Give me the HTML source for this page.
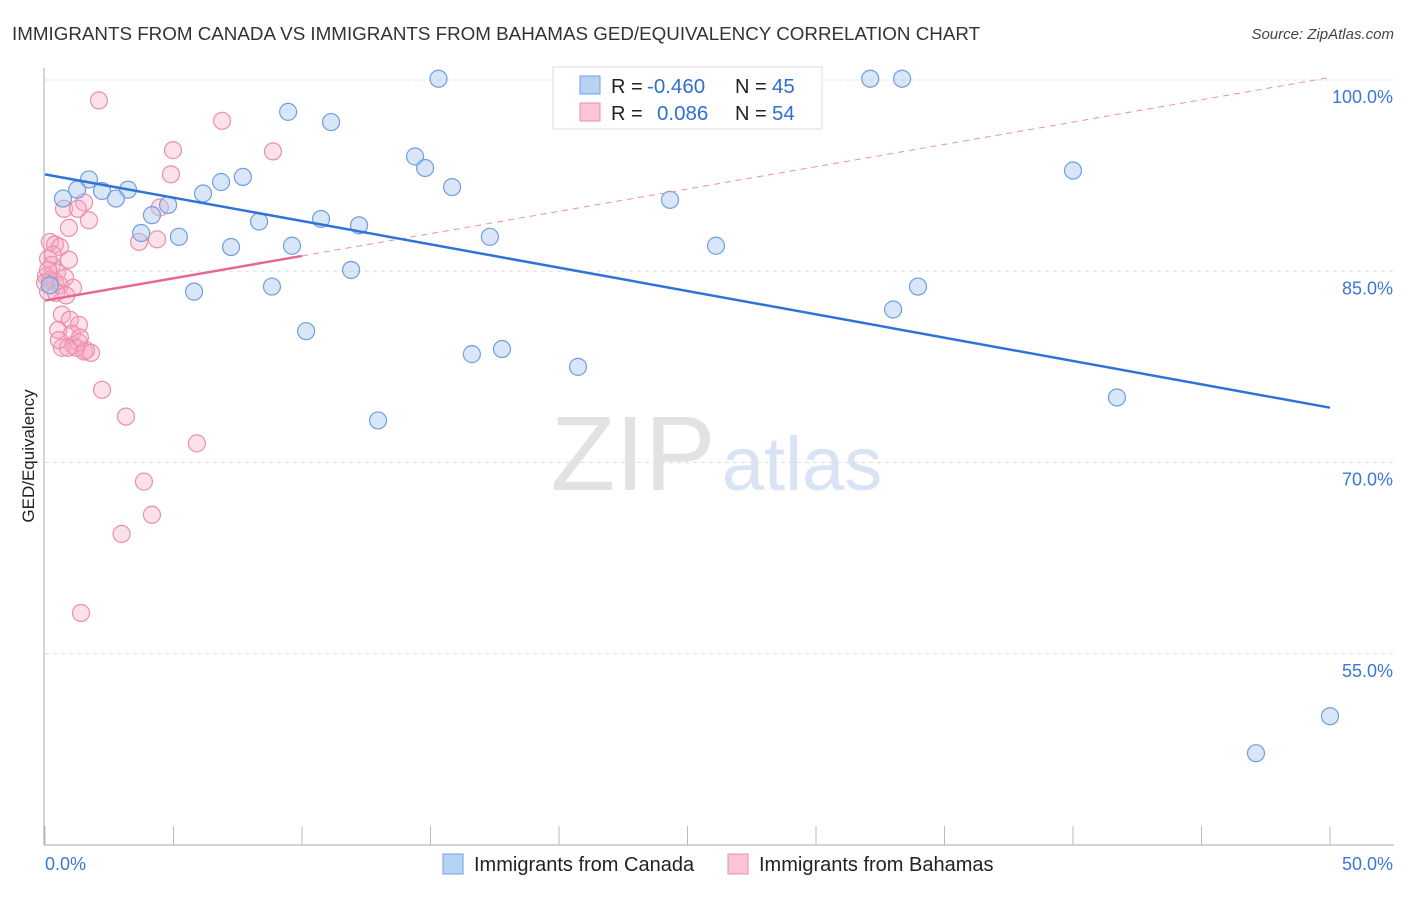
<!DOCTYPE html>
<html><head><meta charset="utf-8"><style>
body{margin:0;background:#fff;font-family:"Liberation Sans",sans-serif;}
svg text{font-family:"Liberation Sans",sans-serif;}
</style></head><body>
<svg id="chart" width="1406" height="892" viewBox="0 0 1406 892" xmlns="http://www.w3.org/2000/svg">
<text x="12" y="40" font-size="18.8" fill="#333">IMMIGRANTS FROM CANADA VS IMMIGRANTS FROM BAHAMAS GED/EQUIVALENCY CORRELATION CHART</text>
<text x="1394" y="39" font-size="15" fill="#444" font-style="italic" text-anchor="end">Source: ZipAtlas.com</text>
<g>
<text x="633" y="490" font-size="106" fill="#e2e2e2" font-family="Liberation Serif" text-anchor="middle">ZIP</text>
<text x="802" y="490" font-size="76" fill="#d8e4f3" text-anchor="middle">atlas</text>
</g>
<g id="grid"></g>
<g id="axes"></g>
<g id="marks"></g>
<text x="34" y="456" font-size="17" fill="#222" text-anchor="middle" transform="rotate(-90 34 456)">GED/Equivalency</text>
<g>
<rect x="553" y="67" width="269" height="62" fill="#fff" stroke="#ddd"/>
<rect x="580" y="76" width="20" height="18" fill="#b8d2f4" stroke="#6f9fe0"/>
<rect x="580" y="103" width="20" height="18" fill="#fac6d5" stroke="#eb8fab"/>
<text x="611" y="93" font-size="20" fill="#222">R = </text><text x="647" y="93" font-size="20.5" fill="#2f6fd0">-0.460</text>
<text x="735" y="93" font-size="20" fill="#222">N = </text><text x="772" y="93" font-size="20.5" fill="#2f6fd0">45</text>
<text x="611" y="120" font-size="20" fill="#222">R = </text><text x="657" y="120" font-size="20.5" fill="#2f6fd0">0.086</text>
<text x="735" y="120" font-size="20" fill="#222">N = </text><text x="772" y="120" font-size="20.5" fill="#2f6fd0">54</text>
</g>
<g>
<rect x="443" y="854" width="20" height="20" fill="#b8d2f4" stroke="#6f9fe0"/>
<text x="474" y="871" font-size="20" fill="#222">Immigrants from Canada</text>
<rect x="728" y="854" width="20" height="20" fill="#fac6d5" stroke="#eb8fab"/>
<text x="759" y="871" font-size="20" fill="#222">Immigrants from Bahamas</text>
</g>
</svg>
<script>
const yTicks=[100,85,70,55];
const yTickLabels=["100.0%","85.0%","70.0%","55.0%"];
const xTickLabels=["0.0%","50.0%"];
const canadaX=[15.31,32.11,33.35,9.46,11.13,14.40,14.79,40.00,1.71,7.70,6.85,0.70,1.25,2.22,3.23,2.76,4.79,6.15,15.84,4.16,24.32,8.33,10.74,12.22,3.74,5.21,7.24,9.61,17.31,26.11,11.91,8.83,5.80,33.97,33.00,10.16,16.61,17.78,20.74,12.96,41.71,50.00,47.12,0.19,28.44];
const canadaY=[100.1,100.1,100.1,97.5,96.7,94.0,93.1,92.9,92.2,92.4,92.0,90.7,91.4,91.3,91.4,90.7,90.2,91.1,91.6,89.4,90.6,88.9,89.1,88.6,88.0,87.7,86.9,87.0,87.7,87.0,85.1,83.8,83.4,83.8,82.0,80.3,78.5,78.9,77.5,73.3,75.1,50.1,47.2,83.9,100.0];
const bahamasX=[2.10,6.89,4.98,8.87,4.90,0.74,1.52,1.28,1.71,4.47,0.93,3.66,4.36,0.19,0.39,0.58,0.93,0.12,0.27,0.47,0.04,0.19,0.39,0.58,0.78,1.09,0.12,0.43,0.66,0.97,1.32,0.51,1.05,0.66,1.09,1.32,1.52,1.60,1.21,0.89,2.22,3.15,5.91,3.85,4.16,2.98,1.40,0.12,0.31,0.82,0.54,1.79,1.36,0.00];
const bahamasY=[98.4,96.8,94.5,94.4,92.6,89.9,90.4,89.9,89.0,90.0,88.4,87.3,87.5,87.3,87.1,86.9,85.9,86.0,85.5,84.9,84.6,84.3,84.2,83.9,84.5,83.7,83.4,83.3,81.6,81.2,80.8,80.4,80.1,79.0,79.2,79.4,78.7,78.8,79.0,79.0,75.7,73.6,71.5,68.5,65.9,64.4,58.2,85.1,86.3,83.1,79.6,78.6,79.8,84.1];
const canadaTrend=[92.6,74.3];   // values at x=0 and x=50
const bahamasTrend=[82.7,100.2];
const NS="http://www.w3.org/2000/svg";
const X=v=>45+v/50*1285, Y=v=>80+(100-v)*12.75;
function mk(t,a,p){const e=document.createElementNS(NS,t);for(const k in a)e.setAttribute(k,a[k]);document.getElementById(p).appendChild(e);return e;}
yTicks.forEach((t,i)=>{
 const g=mk('line',{x1:45,x2:1394,y1:Y(t),y2:Y(t),stroke:'#ddd','stroke-dasharray':'4,4'},'grid');
 
 
 const l=mk('text',{x:1393,y:Y(t)+23,'font-size':18,fill:'#3b78d4','text-anchor':'end'},'axes');l.textContent=yTickLabels[i];
 
 
});
const ya=mk('line',{x1:44,x2:44,y1:68,y2:845,stroke:'#aaa'},'axes');


const xa=mk('line',{x1:44,x2:1394,y1:845,y2:845,stroke:'#aaa'},'axes');


for(let i=0;i<=10;i++){const t=mk('line',{x1:X(i*5),x2:X(i*5),y1:826,y2:845,stroke:'#bbb'},'axes');
 
 }
[[0,'start',45],[1,'end',1393]].forEach(([i,a,x])=>{const l=mk('text',{x:x,y:870,'font-size':18,fill:'#3b78d4','text-anchor':a},'axes');l.textContent=xTickLabels[i];
 
 });
bahamasX.forEach((x,i)=>{const c=mk('circle',{cx:X(x),cy:Y(bahamasY[i]),r:8.5,fill:'rgba(246,170,195,0.35)',stroke:'#eb8fab','stroke-width':1.2},'marks');
 
 });
canadaX.forEach((x,i)=>{const c=mk('circle',{cx:X(x),cy:Y(canadaY[i]),r:8.5,fill:'rgba(170,200,240,0.45)',stroke:'#6f9fe0','stroke-width':1.2},'marks');
 
 });
const bt=x=>bahamasTrend[0]+(bahamasTrend[1]-bahamasTrend[0])*x/50;
const l1=mk('line',{x1:X(10),y1:Y(bt(10)),x2:X(50),y2:Y(bt(50)),stroke:'#eb8fab','stroke-dasharray':'6,5','stroke-width':1},'marks');


const l2=mk('line',{x1:X(0),y1:Y(bt(0)),x2:X(10),y2:Y(bt(10)),stroke:'#e86792','stroke-width':2.5},'marks');


const l3=mk('line',{x1:X(0),y1:Y(canadaTrend[0]),x2:X(50),y2:Y(canadaTrend[1]),stroke:'#2f73d6','stroke-width':2.5},'marks');


</script>
</body></html>
